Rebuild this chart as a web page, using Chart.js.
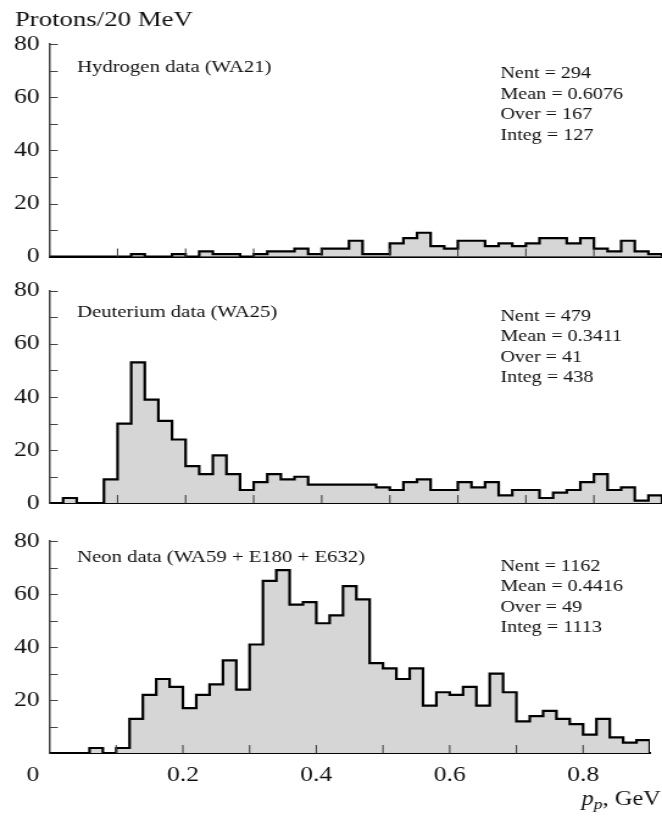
<!DOCTYPE html>
<html>
<head>
<meta charset="utf-8">
<script src="https://cdn.jsdelivr.net/npm/chart.js@4.4.1/dist/chart.umd.min.js"></script>
<style>
  html, body { margin: 0; padding: 0; background: #fff; }
  #wrap { position: relative; width: 662px; height: 819px; }
  #wrap canvas { position: absolute; left: 0; top: 0; width: 662px; height: 819px; }
</style>
</head>
<body>
<div id="wrap">
  <canvas id="hydrogen" width="543" height="819"></canvas>
  <canvas id="deuterium" width="543" height="819"></canvas>
  <canvas id="neon" width="543" height="819"></canvas>
</div>
<script>
// histogram binning: 45 bins of 20 MeV from 0 to 0.9 GeV
const BIN_LOW = 0;
const BIN_WIDTH = 0.02;
const N_BINS = 45;

const hydrogenCounts = [
  0, 0, 0, 0, 0, 0, 1, 0, 0, 1,
  0, 2, 1, 1, 0, 1, 2, 2, 3, 1,
  3, 3, 6, 1, 1, 5, 7, 9, 4, 3,
  6, 6, 4, 5, 4, 5, 7, 7, 5, 7,
  3, 2, 6, 2, 1
];
const deuteriumCounts = [
  0, 2, 0, 0, 9, 30, 53, 39, 31, 24,
  14, 11, 18, 11, 5, 8, 11, 9, 10, 7,
  7, 7, 7, 7, 6, 5, 8, 9, 5, 5,
  8, 6, 8, 3, 5, 5, 2, 4, 5, 8,
  11, 5, 6, 1, 3
];
const neonCounts = [
  0, 0, 0, 2, 0, 2, 13, 22, 28, 25,
  17, 22, 26, 35, 24, 41, 65, 69, 56, 57,
  49, 52, 63, 58, 34, 32, 28, 32, 18, 23,
  22, 25, 18, 30, 23, 12, 14, 16, 13, 11,
  7, 13, 6, 4, 5
];

const hydrogenStats = ["Nent = 294", "Mean = 0.6076", "Over = 167", "Integ = 127"];
const deuteriumStats = ["Nent = 479", "Mean = 0.3411", "Over = 41", "Integ = 438"];
const neonStats = ["Nent = 1162", "Mean = 0.4416", "Over = 49", "Integ = 1113"];

const yLabelValues = [0, 20, 40, 60, 80];
const xLabelValues = [0.2, 0.4, 0.6, 0.8];

// the page is drawn narrow and stretched sideways by CSS
const PAGE_W = 662, PAGE_H = 819, CANVAS_W = 543;
const SX = CANVAS_W / PAGE_W;
const sx = v => v * SX;

const SERIF = '"Liberation Serif", "Times New Roman", serif';
Chart.defaults.font.family = SERIF;
Chart.defaults.color = '#111';

const panels = [
  { id: 'hydrogen', counts: hydrogenCounts, name: 'Hydrogen data (WA21)', stats: hydrogenStats,
    top: 44, bottom: 256.7, nameY: 68, statsY: 74, lastPanel: false },
  { id: 'deuterium', counts: deuteriumCounts, name: 'Deuterium data (WA25)', stats: deuteriumStats,
    top: 290.7, bottom: 503.3, nameY: 313, statsY: 316.5, lastPanel: false },
  { id: 'neon', counts: neonCounts, name: 'Neon data (WA59 + E180 + E632)', stats: neonStats,
    top: 541, bottom: 753.3, nameY: 558, statsY: 566.5, lastPanel: true }
];

const AXIS_X = sx(49.5);


function histPoints(counts) {
  const pts = counts.map((c, i) => ({ x: BIN_LOW + i * BIN_WIDTH, y: c }));
  const xEnd = BIN_LOW + N_BINS * BIN_WIDTH;
  pts.push({ x: xEnd, y: counts[counts.length - 1] });
  pts.push({ x: xEnd, y: 0 });
  return pts;
}


// inward tick marks, panel caption, stats box and the shared axis texts
const panelDecor = {
  id: 'panelDecor',
  afterDatasetsDraw(chart, args, opts) {
    const { ctx, chartArea: a, scales: { x, y } } = chart;
    const p = opts.panel;
    ctx.save();

    ctx.strokeStyle = '#444';
    ctx.lineWidth = 1.1;
    ctx.beginPath();
    y.ticks.forEach(t => {
      if (t.value <= 0) return;
      const py = Math.round(y.getPixelForValue(t.value)) + 0.5;
      ctx.moveTo(a.left, py);
      ctx.lineTo(a.left + sx(8.3), py);
    });
    x.ticks.forEach(t => {
      if (t.value <= 0 || t.value >= 0.89) return;
      const px = x.getPixelForValue(t.value);
      ctx.moveTo(px, a.bottom);
      ctx.lineTo(px, a.bottom - 8.3);
    });
    ctx.stroke();

    ctx.fillStyle = '#111';
    ctx.textAlign = 'left';
    ctx.textBaseline = 'middle';
    ctx.font = `17px ${SERIF}`;
    ctx.fillText(p.name, sx(77), p.nameY);

    ctx.font = `16.5px ${SERIF}`;
    p.stats.forEach((s, i) => ctx.fillText(s, sx(500.4), p.statsY + i * 20.5));

    if (p.id === 'hydrogen') {
      ctx.font = `22px ${SERIF}`;
      ctx.fillText('Protons/20 MeV', sx(14.8), 20);
    }

    if (p.lastPanel) {
      ctx.font = `21px ${SERIF}`;
      ctx.textAlign = 'center';
      ctx.fillText('0', sx(33), 775);

      // p_p, GeV
      const base = 805;
      const big = `italic 20px ${SERIF}`, small = `italic 14.5px ${SERIF}`, plain = `20px ${SERIF}`;
      ctx.textAlign = 'left';
      ctx.textBaseline = 'alphabetic';
      ctx.font = big; const w1 = ctx.measureText('p').width;
      ctx.font = small; const w2 = ctx.measureText('p').width;
      ctx.font = plain; const w3 = ctx.measureText(', GeV').width;
      let xx = CANVAS_W - 1 - (w1 + w2 + w3);
      ctx.font = big; ctx.fillText('p', xx, base); xx += w1;
      ctx.font = small; ctx.fillText('p', xx, base + 4); xx += w2;
      ctx.font = plain; ctx.fillText(', GeV', xx, base);
    }
    ctx.restore();
  }
};


function drawPanel(p) {
  const canvas = document.getElementById(p.id);
  canvas.style.width = PAGE_W + 'px';
  canvas.style.height = PAGE_H + 'px';

  new Chart(canvas, {
    type: 'line',
    data: {
      datasets: [{
        data: histPoints(p.counts),
        stepped: true,
        fill: 'origin',
        backgroundColor: '#d6d6d6',
        borderColor: '#000',
        borderWidth: 2.2,
        pointRadius: 0
      }]
    },
    options: {
      responsive: false,
      animation: false,
      events: [],
      layout: {
        padding: { top: p.top, left: 0, right: 0, bottom: p.lastPanel ? 0 : PAGE_H - p.bottom }
      },
      plugins: {
        legend: { display: false },
        tooltip: { enabled: false },
        panelDecor: { panel: p }
      },
      scales: {
        x: {
          type: 'linear',
          min: 0,
          max: 0.9,
          grid: { display: false, drawTicks: false },
          border: { display: true, color: '#000', width: 2 },
          ticks: {
            display: p.lastPanel,
            stepSize: 0.1,
            autoSkip: false,
            maxRotation: 0,
            padding: 10,
            font: { size: 21 },
            callback: v => {
              const k = Math.round(v * 10) / 10;
              return xLabelValues.includes(k) ? String(k) : '';
            }
          },
          afterFit: s => { s.height = p.lastPanel ? PAGE_H - p.bottom : 0; }
        },
        y: {
          min: 0,
          max: 80,
          grid: { display: false, drawTicks: false },
          border: { display: true, color: '#444', width: 1.5 },
          ticks: {
            stepSize: 10,
            autoSkip: false,
            padding: sx(10),
            font: { size: 21 },
            callback: v => {
              if (p.lastPanel && v === 0) return '';
              return yLabelValues.includes(v) ? String(v) : '';
            }
          },
          afterFit: s => { s.width = AXIS_X; }
        }
      }
    },
    plugins: [panelDecor]
  });
}

panels.forEach(drawPanel);
</script>
</body>
</html>
